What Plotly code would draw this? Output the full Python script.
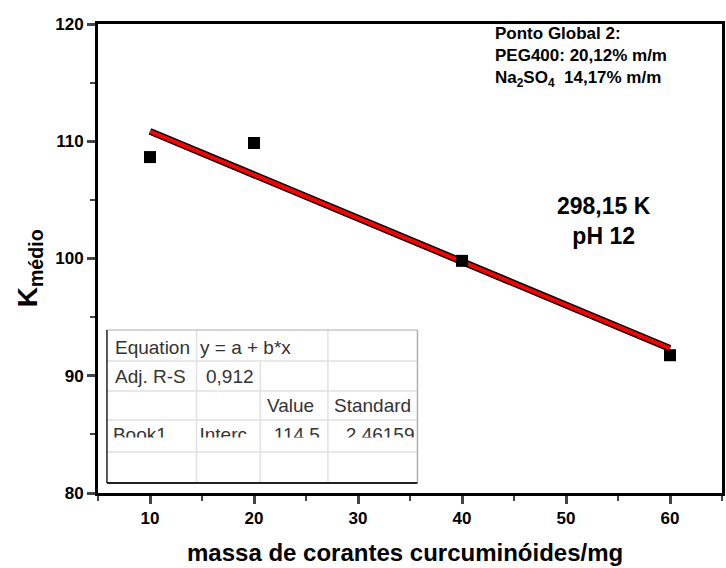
import numpy as np
import plotly.graph_objects as go

# ---- data ----
massa = [10, 20, 40, 60]
k_medio = [108.65, 109.85, 99.8, 91.75]

x_ticks = [10, 20, 30, 40, 50, 60]
y_ticks = [80, 90, 100, 110, 120]

info_lines = ["Ponto Global 2:", "PEG400: 20,12% m/m", "Na<sub>2</sub>SO<sub>4</sub>  14,17% m/m"]
cond_lines = ["298,15 K", "pH 12"]

table_row1 = ["Equation", "y = a + b*x"]
table_row2 = ["Adj. R-S", "0,912"]
table_row3 = ["Value", "Standard"]
table_row4 = ["Book1", "Interc", "114<span>,</span>5", "2<span>,</span>46159"]

# ---- layout helpers (pixel -> paper) ----
W, H = 726, 568
L, R, T, B = 98, 1, 24, 75
PW, PH = W - L - R, H - T - B


def px(x):
    return (x - L) / PW


def py(y):
    return 1 - (y - T) / PH


# linear fit
b, a = np.polyfit(massa, k_medio, 1)
fx = np.array([min(massa), max(massa)])
fy = a + b * fx

fig = go.Figure()
fig.add_trace(go.Scatter(x=fx, y=fy, mode="lines", line=dict(color="black", width=7),
                         showlegend=False, hoverinfo="skip"))
fig.add_trace(go.Scatter(x=fx, y=fy, mode="lines", line=dict(color="#ff0000", width=4),
                         showlegend=False, hoverinfo="skip"))
fig.add_trace(go.Scatter(x=massa, y=k_medio, mode="markers",
                         marker=dict(symbol="square", size=12, color="black"),
                         showlegend=False))

FONT = "Liberation Sans"
TFONT = dict(family=FONT, size=19, color="#333333")

# table geometry (pixels)
cols = [107, 197, 261, 329, 419]
rows = [330, 361, 391, 420, 452, 483]

# clipped table row: text trace on a small hidden subplot whose area cuts the text
CUT_TOP, CUT_BOT = 419, 437.5
fig.add_trace(go.Scatter(
    x=[113, 200], y=[436, 436], mode="text", text=table_row4[:2],
    textposition="middle right", textfont=TFONT, xaxis="x3", yaxis="y3",
    showlegend=False, hoverinfo="skip", cliponaxis=True))
fig.add_trace(go.Scatter(
    x=[321, 416], y=[436, 436], mode="text", text=table_row4[2:],
    textposition="middle left", textfont=TFONT, xaxis="x3", yaxis="y3",
    showlegend=False, hoverinfo="skip", cliponaxis=True))

shapes = []
for yy in rows[1:-1]:
    shapes.append(dict(type="line", xref="paper", yref="paper", x0=px(cols[0]), x1=px(cols[-1]),
                       y0=py(yy), y1=py(yy), line=dict(color="#e2e2e2", width=1.5), layer="above"))
for xx in cols[1:-1]:
    ytop = rows[1] if xx == cols[2] else rows[0]
    shapes.append(dict(type="line", xref="paper", yref="paper", x0=px(xx), x1=px(xx),
                       y0=py(ytop), y1=py(rows[-1]), line=dict(color="#e2e2e2", width=1.5), layer="above"))
# outer border: light top/right, dark left/bottom
shapes.append(dict(type="line", xref="paper", yref="paper", x0=px(cols[0]), x1=px(cols[-1]),
                   y0=py(rows[0]), y1=py(rows[0]), line=dict(color="#c8c8c8", width=1.5), layer="above"))
shapes.append(dict(type="line", xref="paper", yref="paper", x0=px(cols[-1]), x1=px(cols[-1]),
                   y0=py(rows[0]), y1=py(rows[-1]), line=dict(color="#b0b0b0", width=1.5), layer="above"))
shapes.append(dict(type="line", xref="paper", yref="paper", x0=px(cols[0]), x1=px(cols[0]),
                   y0=py(rows[0]), y1=py(rows[-1]), line=dict(color="#222222", width=1.5), layer="above"))
shapes.append(dict(type="line", xref="paper", yref="paper", x0=px(cols[0]), x1=px(cols[-1]),
                   y0=py(rows[-1]), y1=py(rows[-1]), line=dict(color="#222222", width=2), layer="above"))

ann = []


def add_text(text, x, y, xanchor="left", font=TFONT, angle=0, yanchor="middle", align="center"):
    ann.append(dict(text=text, x=px(x), y=py(y), xref="paper", yref="paper",
                    xanchor=xanchor, yanchor=yanchor, showarrow=False, font=font,
                    textangle=angle, align=align))


add_text(table_row1[0], 113, 347)
add_text(table_row1[1], 198, 347)
add_text(table_row2[0], 113, 376)
add_text(table_row2[1], 205, 376)
add_text(table_row3[0], 317, 405, xanchor="right")
add_text(table_row3[1], 415, 405, xanchor="right")

BFONT = dict(family=FONT, size=17, color="black", weight="bold")
add_text("<br>".join(info_lines), 495, 22, font=BFONT, yanchor="top", align="left")

CFONT = dict(family=FONT, size=23, color="black", weight="bold")
add_text("<br>".join(cond_lines), 606, 221, xanchor="center", font=CFONT)

add_text("K<sub>médio</sub>", 29, 268, xanchor="center",
         font=dict(family=FONT, size=28, color="black", weight="bold"), angle=-90)
add_text("massa de corantes curcuminóides/mg", 406, 552, xanchor="center",
         font=dict(family=FONT, size=24, color="black", weight="bold"))

tickfont = dict(family=FONT, size=17, color="black", weight="bold")
fig.update_layout(
    width=W, height=H, margin=dict(l=L, r=R, t=T, b=B),
    paper_bgcolor="white", plot_bgcolor="rgba(0,0,0,0)",
    xaxis=dict(range=[5, 65], tickvals=x_ticks, ticks="outside", ticklen=8, tickwidth=3,
               showline=True, linewidth=3, linecolor="black", mirror=True, showgrid=False,
               zeroline=False, tickfont=tickfont,
               minor=dict(ticks="outside", ticklen=5, tickwidth=2, dtick=5, tick0=5, showgrid=False)),
    yaxis=dict(range=[80, 120], tickvals=y_ticks, ticks="outside", ticklen=8, tickwidth=3,
               showline=True, linewidth=3, linecolor="black", mirror=True, showgrid=False,
               zeroline=False, tickfont=tickfont,
               minor=dict(ticks="outside", ticklen=5, tickwidth=2, dtick=5, tick0=80, showgrid=False)),
    xaxis3=dict(domain=[0, 1], range=[L, W - R], anchor="y3", visible=False, fixedrange=True),
    yaxis3=dict(domain=[py(CUT_BOT), py(CUT_TOP)], range=[CUT_BOT, CUT_TOP], anchor="x3",
                visible=False, fixedrange=True),
    shapes=shapes, annotations=ann,
)

fig.write_html("out.html")
